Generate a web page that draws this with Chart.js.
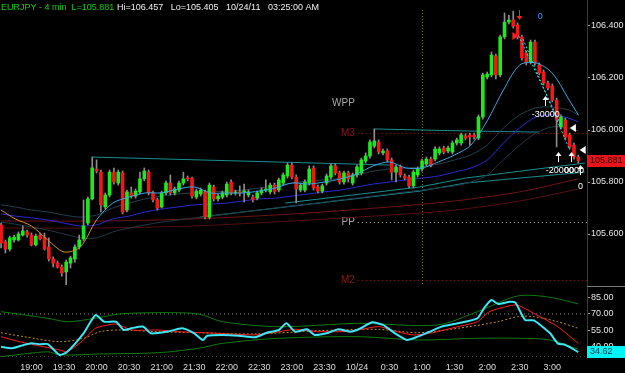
<!DOCTYPE html>
<html>
<head>
<meta charset="utf-8">
<script src="https://cdn.jsdelivr.net/npm/chart.js@4.4.0/dist/chart.umd.min.js"></script>
<style>
    html, body { margin: 0; padding: 0; background: #000; }
    #wrap { position: relative; width: 625px; height: 373px; overflow: hidden; background: #000; }
    #price { position: absolute; left: 0; top: 0; }
    #osc { position: absolute; left: 0; top: 286px; }
</style>
</head>
<body>
<div id="wrap">
    <canvas id="price" width="625" height="286"></canvas>
    <canvas id="osc" width="625" height="87"></canvas>
</div>
<script>
// Bars: EURJPY 4 min, first bar 18:32, last bar 03:24
const barStart = '18:32';
const barMinutes = 4;

const opens = [105.635,105.569,105.542,105.577,105.577,105.596,105.608,105.596,105.558,105.596,
    105.588,105.550,105.504,105.488,105.473,105.454,105.488,105.504,105.550,105.581,
    105.642,105.735,105.850,105.838,105.704,105.750,105.838,105.796,105.835,105.692,
    105.758,105.746,105.762,105.812,105.838,105.758,105.731,105.704,105.758,105.796,
    105.758,105.769,105.796,105.815,105.815,105.742,105.754,105.762,105.665,105.781,
    105.735,105.742,105.750,105.800,105.758,105.762,105.762,105.750,105.742,105.738,
    105.758,105.769,105.762,105.788,105.769,105.796,105.823,105.865,105.819,105.769,
    105.769,105.796,105.854,105.781,105.765,105.796,105.819,105.862,105.835,105.800,
    105.835,105.796,105.827,105.835,105.881,105.900,105.938,105.954,105.912,105.919,
    105.885,105.838,105.858,105.823,105.819,105.785,105.827,105.850,105.869,105.888,
    105.888,105.912,105.931,105.919,105.915,105.950,105.950,105.977,105.981,105.981,
    105.969,106.050,106.204,106.212,106.285,106.212,106.358,106.415,106.423,106.404,
    106.358,106.296,106.262,106.338,106.250,106.223,106.181,106.169,106.115,106.012,
    106.038,105.981,105.942,105.896];
const highs = [105.642,105.577,105.592,105.596,105.608,105.631,105.615,105.604,105.600,105.604,
    105.604,105.585,105.512,105.496,105.481,105.500,105.515,105.558,105.596,105.731,
    105.742,105.896,105.885,105.846,105.758,105.846,105.854,105.846,105.842,105.769,
    105.781,105.773,105.838,105.854,105.846,105.765,105.738,105.765,105.804,105.827,
    105.781,105.804,105.838,105.823,105.819,105.773,105.777,105.769,105.796,105.788,
    105.754,105.765,105.800,105.808,105.769,105.785,105.792,105.769,105.750,105.765,
    105.777,105.808,105.796,105.796,105.815,105.835,105.873,105.873,105.827,105.796,
    105.808,105.862,105.862,105.788,105.792,105.831,105.869,105.869,105.842,105.842,
    105.842,105.835,105.865,105.892,105.912,105.962,106.004,105.962,105.927,105.927,
    105.892,105.865,105.865,105.831,105.827,105.846,105.858,105.888,105.896,105.896,
    105.935,105.935,105.938,105.938,105.958,105.969,105.988,105.985,105.988,105.988,
    106.058,106.219,106.223,106.300,106.292,106.365,106.450,106.442,106.457,106.412,
    106.365,106.304,106.346,106.346,106.258,106.231,106.188,106.177,106.123,106.058,
    106.046,105.988,105.950,105.904];
const lows = [105.546,105.527,105.535,105.569,105.573,105.592,105.588,105.554,105.554,105.577,
    105.538,105.496,105.473,105.469,105.438,105.405,105.469,105.492,105.542,105.573,
    105.635,105.731,105.835,105.685,105.696,105.742,105.792,105.788,105.677,105.685,
    105.738,105.738,105.754,105.804,105.750,105.723,105.692,105.700,105.750,105.750,
    105.750,105.762,105.788,105.804,105.738,105.735,105.746,105.658,105.658,105.727,
    105.727,105.735,105.742,105.750,105.750,105.746,105.723,105.742,105.723,105.731,
    105.750,105.762,105.754,105.754,105.762,105.788,105.815,105.812,105.719,105.762,
    105.762,105.788,105.769,105.758,105.758,105.788,105.812,105.827,105.792,105.792,
    105.800,105.788,105.819,105.827,105.873,105.892,105.931,105.908,105.904,105.877,
    105.808,105.800,105.819,105.808,105.777,105.777,105.819,105.842,105.862,105.858,
    105.881,105.904,105.908,105.912,105.908,105.942,105.942,105.962,105.942,105.965,
    105.962,106.042,106.196,106.204,106.196,106.204,106.350,106.408,106.392,106.350,
    106.269,106.250,106.254,106.250,106.212,106.173,106.154,106.108,105.935,106.004,
    105.965,105.927,105.888,105.873];
const closes = [105.565,105.542,105.585,105.588,105.600,105.612,105.596,105.558,105.592,105.581,
    105.542,105.504,105.488,105.473,105.450,105.492,105.508,105.550,105.577,105.631,
    105.735,105.854,105.842,105.712,105.750,105.838,105.800,105.838,105.685,105.762,
    105.746,105.765,105.812,105.842,105.758,105.731,105.700,105.758,105.796,105.758,
    105.773,105.796,105.812,105.812,105.746,105.765,105.769,105.665,105.788,105.735,
    105.746,105.758,105.792,105.758,105.762,105.758,105.765,105.762,105.731,105.758,
    105.769,105.773,105.788,105.762,105.808,105.827,105.865,105.819,105.773,105.788,
    105.800,105.850,105.777,105.765,105.785,105.823,105.862,105.835,105.800,105.835,
    105.812,105.827,105.858,105.885,105.900,105.954,105.958,105.915,105.919,105.885,
    105.838,105.858,105.827,105.815,105.785,105.838,105.850,105.881,105.888,105.865,
    105.927,105.927,105.915,105.931,105.950,105.962,105.981,105.969,105.973,105.973,
    106.050,106.212,106.215,106.288,106.212,106.358,106.415,106.423,106.400,106.358,
    106.277,106.258,106.338,106.258,106.219,106.181,106.162,106.115,106.038,106.050,
    105.973,105.935,105.896,105.881];

// Moving averages, read every 15 minutes
const maTimes = ['18:32','18:45','19:00','19:15','19:30','19:45','20:00','20:15','20:30','20:45',
    '21:00','21:15','21:30','21:45','22:00','22:15','22:30','22:45','23:00','23:15',
    '23:30','23:45','0:00','0:15','0:30','0:45','1:00','1:15','1:30','1:45',
    '2:00','2:15','2:30','2:45','3:00','3:15','3:24'];
const fastMA = [105.692,105.658,105.631,105.577,105.531,105.550,105.654,105.719,105.742,105.758,
    105.758,105.773,105.781,105.758,105.758,105.758,105.765,105.777,105.796,105.792,
    105.800,105.812,105.831,105.862,105.877,105.854,105.854,105.877,105.904,105.942,
    106.035,106.154,106.250,106.258,106.219,106.119,106.058];
const blueMA = [105.677,105.669,105.662,105.654,105.642,105.631,105.635,105.658,105.669,105.685,
    105.696,105.704,105.712,105.715,105.719,105.727,105.735,105.738,105.746,105.754,
    105.762,105.769,105.781,105.792,105.800,105.808,105.815,105.823,105.838,105.854,
    105.885,105.950,106.008,106.050,106.058,106.046,106.031];
const bandUpper = [105.712,105.704,105.692,105.685,105.673,105.665,105.673,105.700,105.719,105.735,
    105.746,105.754,105.758,105.762,105.765,105.769,105.777,105.785,105.796,105.804,
    105.808,105.815,105.827,105.842,105.850,105.854,105.858,105.869,105.885,105.904,
    105.942,106.008,106.058,106.085,106.088,106.077,106.058];
const bandLower = [105.646,105.638,105.627,105.615,105.600,105.585,105.585,105.608,105.623,105.635,
    105.646,105.654,105.662,105.669,105.677,105.685,105.692,105.700,105.708,105.715,
    105.723,105.731,105.738,105.746,105.754,105.762,105.769,105.777,105.785,105.800,
    105.827,105.885,105.942,105.988,106.012,106.008,105.996];

const slowTimes = ['18:32','20:00','21:30','23:00','0:30','1:30','2:30','3:24'];
const slowUpper = [105.650,105.650,105.658,105.677,105.704,105.727,105.762,105.812];
const slowLower = [105.623,105.623,105.631,105.650,105.673,105.692,105.727,105.773];

// drawn trend lines
const trendA = { times: ['19:56','0:32'], prices: [105.896,105.865] };
const trendB = { times: ['0:16','0:16','1:44','2:48'], prices: [105.962,106.004,105.996,105.992] };
const trendC = { times: ['22:54','0:58','1:40','3:30'], prices: [105.719,105.781,105.815,105.873] };
const trendD = { times: ['21:35','0:58','1:40','3:30'], prices: [105.665,105.765,105.796,105.838] };

// pivots
const pivotNames = ['WPP','M3','PP','M2'];
const pivotPrices = [106.104,105.988,105.646,105.423];
const pivotHasLine = [false,true,true,true];

// trade marks
const markTexts = ['0','-30000','-20000','0000','0'];
const markTimes = ['2:49','2:54','3:07','3:20','3:26'];
const markPrices = [106.435,106.058,105.846,105.846,105.781];
const upArrowTimes = ['2:53','3:05','3:17','3:26'];
const upArrowPrices = [106.131,105.915,105.915,105.865];
const flagTimes = ['3:19','3:28'];
const flagPrices = [106.008,105.923];

// oscillator panel
const rsiTimes = ['18:32','18:42','18:53','19:00','19:08','19:15','19:26','19:33','19:48','19:59',
    '20:07','20:18','20:25','20:32','20:43','20:50','21:05','21:19','21:30','21:38',
    '21:42','21:56','22:11','22:26','22:37','22:48','22:55','23:03','23:14','23:21',
    '23:32','23:43','23:54','0:02','0:14','0:24','0:35','0:46','0:56','1:07',
    '1:18','1:33','1:51','1:57','2:04','2:10','2:21','2:26','2:35','2:43',
    '2:58','3:05','3:12','3:24'];
const rsiValues = [39.6,38.1,41.2,42.7,41.8,42.0,31.9,34.9,52.0,69.0,
    62.8,62.8,55.1,56.7,58.2,52.0,53.5,56.7,52.0,45.8,
    49.8,50.5,49.8,48.3,52.6,55.1,61.3,53.5,55.7,50.5,
    52.0,55.7,53.5,56.0,62.2,59.8,52.0,45.8,48.9,53.5,
    58.2,61.3,66.0,75.3,83.0,79.3,81.4,80.5,64.4,64.0,
    52.0,42.7,41.2,34.62];
const sigTimes = ['18:32','18:53','19:26','19:33','19:48','19:59','20:18','20:32','20:57','21:16',
    '21:52','22:26','22:48','23:03','23:25','23:54','0:20','0:37','0:52','1:07',
    '1:33','1:51','2:02','2:21','2:28','2:43','3:05','3:24'];
const sigValues = [48.9,43.3,36.5,34.9,45.8,56.7,60.7,55.1,55.1,53.5,
    52.0,50.5,53.5,55.7,53.5,54.0,58.2,53.5,50.5,52.0,
    58.2,62.8,72.1,77.7,78.3,70.6,58.2,42.7];
const avgTimes = ['18:32','18:53','19:26','19:48','20:03','20:21','20:57','21:34','22:26','23:25',
    '0:20','0:56','1:33','2:10','2:28','2:43','3:05','3:24'];
const avgValues = [52.6,48.9,44.2,47.4,53.5,55.1,53.5,52.6,51.4,54.5,
    55.7,52.6,56.7,62.8,67.5,67.5,62.8,56.7];
const hiBandTimes = ['18:32','19:15','19:33','19:59','20:21','20:57','21:34','21:56','22:48','0:02',
    '1:14','1:51','2:28','2:58','3:24'];
const hiBandValues = [72.1,66.0,62.8,66.0,70.0,71.2,70.0,62.8,58.2,61.3,
    59.8,72.1,86.7,85.5,79.3];
const loBandTimes = ['18:32','19:15','19:26','20:03','20:57','21:34','21:56','22:48','0:02','0:56',
    '1:51','2:28','2:58','3:24'];
const loBandValues = [30.3,34.9,31.9,32.8,34.0,38.1,42.7,47.4,48.9,45.8,
    47.4,47.4,45.8,37.2];
const oscLevels = [70, 30];

// axes
const priceTicks = [105.6, 105.8, 106.0, 106.2, 106.4];
const oscTicks = [40, 55, 70, 85];
const tickTimes = ['19:00','19:30','20:00','20:30','21:00','21:30','22:00','22:30','23:00','23:30',
    '0:00','0:30','1:00','1:30','2:00','2:30','3:00'];
const tickLabels = ['19:00','19:30','20:00','20:30','21:00','21:30','22:00','22:30','23:00','23:30',
    '10/24','0:30','1:00','1:30','2:00','2:30','3:00'];
const viewStart = '18:31';
const viewEnd = '3:32';

const FONT = 'Arial, "Liberation Sans", sans-serif';

// minutes since 18:00, times after midnight roll over
function toMin(s) {
    const [h, m] = s.split(':').map(Number);
    return ((h < 12 ? h + 24 : h) - 18) * 60 + m;
}

function series(times, values) {
    return times.map((t, i) => ({ x: toMin(t), y: values[i] }));
}

function lineSet(times, values, color, order, extra) {
    return Object.assign({
        type: 'line',
        data: series(times, values),
        borderColor: color,
        borderWidth: 1,
        pointRadius: 0,
        tension: 0.3,
        order: order
    }, extra || {});
}

const barX = opens.map((v, i) => toMin(barStart) + i * barMinutes);
const bodyColors = opens.map((o, i) => closes[i] >= o ? '#1ee81e' : '#f01818');

function rightAxis(min, max, ticks, digits) {
    return {
        position: 'right',
        min: min,
        max: max,
        afterBuildTicks: s => { s.ticks = ticks.map(v => ({ value: v })); },
        afterFit: s => { s.width = 38; s.paddingTop = 0; s.paddingBottom = 0; },
        ticks: {
            color: '#e6e6e6',
            font: { family: FONT, size: 9 },
            padding: 1,
            callback: v => Number(v).toFixed(digits)
        },
        grid: { drawOnChartArea: false, tickLength: 3, color: '#a0a0a0' },
        border: { display: true, color: '#3a3a3a' }
    };
}

const priceDecor = {
    id: 'priceDecor',
    beforeDatasetsDraw(chart) {
        const { ctx, chartArea: a, scales: { x, y } } = chart;
        ctx.save();
        // session separator at 1:00
        const sx = Math.round(x.getPixelForValue(toMin('1:00'))) + 0.5;
        ctx.strokeStyle = '#8a7c00';
        ctx.lineWidth = 1;
        ctx.setLineDash([1, 2]);
        ctx.beginPath();
        ctx.moveTo(sx, a.top + 10);
        ctx.lineTo(sx, a.bottom);
        ctx.stroke();

        // pivot levels
        const lx = x.getPixelForValue(toMin('23:58'));
        ctx.font = '10px ' + FONT;
        ctx.textAlign = 'right';
        ctx.textBaseline = 'middle';
        pivotNames.forEach((name, i) => {
            const py = Math.round(y.getPixelForValue(pivotPrices[i])) + 0.5;
            const col = name.startsWith('M') ? '#8c1a1a' : '#a8a8a8';
            ctx.fillStyle = col;
            ctx.fillText(name, lx, py);
            if (pivotHasLine[i]) {
                ctx.strokeStyle = name.startsWith('M') ? '#8c1a1a' : '#b4b4b4';
                ctx.setLineDash([1, 3]);
                ctx.beginPath();
                ctx.moveTo(lx + 3, py);
                ctx.lineTo(a.right, py);
                ctx.stroke();
            }
        });
        ctx.restore();
    },
    afterDatasetsDraw(chart) {
        const { ctx, scales: { x, y } } = chart;
        ctx.save();
        const px = t => x.getPixelForValue(toMin(t));

        // signal trail lines
        ctx.strokeStyle = '#35e0e0';
        ctx.lineWidth = 1;
        ctx.setLineDash([2, 2]);
        [[['2:29', 106.362], ['3:08', 106.019]], [['2:33', 106.350], ['3:16', 105.923]]].forEach(seg => {
            ctx.beginPath();
            ctx.moveTo(px(seg[0][0]), y.getPixelForValue(seg[0][1]));
            ctx.lineTo(px(seg[1][0]), y.getPixelForValue(seg[1][1]));
            ctx.stroke();
        });
        ctx.setLineDash([]);

        // sell arrow and flag
        const dx = Math.round(px('2:29')) + 0.5;
        const dy = y.getPixelForValue(106.423);
        ctx.strokeStyle = '#ff2020';
        ctx.fillStyle = '#ff2020';
        ctx.lineWidth = 1;
        ctx.beginPath(); ctx.moveTo(dx, dy - 10); ctx.lineTo(dx, dy - 2); ctx.stroke();
        ctx.beginPath(); ctx.moveTo(dx - 3, dy - 4); ctx.lineTo(dx + 3, dy - 4); ctx.lineTo(dx, dy); ctx.fill();
        const fx = px('2:26'), fy = y.getPixelForValue(106.362);
        ctx.beginPath(); ctx.moveTo(fx - 3, fy - 4); ctx.lineTo(fx + 3, fy); ctx.lineTo(fx - 3, fy + 4); ctx.fill();

        // cover arrows
        ctx.strokeStyle = '#ffffff';
        ctx.fillStyle = '#ffffff';
        upArrowTimes.forEach((t, i) => {
            const ax = Math.round(px(t)) + 0.5;
            const ay = y.getPixelForValue(upArrowPrices[i]);
            ctx.beginPath(); ctx.moveTo(ax, ay + 2); ctx.lineTo(ax, ay + 10); ctx.stroke();
            ctx.beginPath(); ctx.moveTo(ax - 3, ay + 4); ctx.lineTo(ax + 3, ay + 4); ctx.lineTo(ax, ay); ctx.fill();
        });
        flagTimes.forEach((t, i) => {
            const ax = px(t), ay = y.getPixelForValue(flagPrices[i]);
            ctx.beginPath(); ctx.moveTo(ax + 3, ay - 4); ctx.lineTo(ax - 3, ay); ctx.lineTo(ax + 3, ay + 4); ctx.fill();
        });

        // texts
        ctx.font = '9px ' + FONT;
        ctx.textAlign = 'center';
        ctx.textBaseline = 'middle';
        markTexts.forEach((txt, i) => {
            ctx.fillStyle = i === 0 ? '#3a9cff' : '#ffffff';
            ctx.fillText(txt, px(markTimes[i]), y.getPixelForValue(markPrices[i]));
        });
        ctx.restore();
    },
    afterDraw(chart) {
        const { ctx, scales: { y } } = chart;
        ctx.save();
        // header
        ctx.font = '9px ' + FONT;
        ctx.textAlign = 'left';
        ctx.textBaseline = 'alphabetic';
        const head = 'EURJPY - 4 min  L=' + closes[closes.length - 1].toFixed(3);
        ctx.fillStyle = '#10d010';
        ctx.fillText(head, 1, 10);
        ctx.fillStyle = '#f0f0f0';
        ctx.fillText('Hi=106.457   Lo=105.405   10/24/11   03:25:00 AM', 117, 10);

        // last price tag
        const last = closes[closes.length - 1];
        const ty = Math.round(y.getPixelForValue(last));
        ctx.fillStyle = '#e8141b';
        ctx.fillRect(587, ty - 6, 38, 12);
        ctx.fillStyle = '#2a0000';
        ctx.textBaseline = 'middle';
        ctx.fillText(last.toFixed(3), 590, ty);
        ctx.restore();
    }
};

const oscDecor = {
    id: 'oscDecor',
    afterDraw(chart) {
        const { ctx, scales: { y } } = chart;
        ctx.save();
        ctx.strokeStyle = '#7a7a7a';
        ctx.beginPath(); ctx.moveTo(587, 0.5); ctx.lineTo(625, 0.5); ctx.stroke();
        const last = rsiValues[rsiValues.length - 1];
        const ty = Math.round(y.getPixelForValue(last));
        ctx.fillStyle = '#00f4f4';
        ctx.fillRect(587, ty - 6, 38, 12);
        ctx.fillStyle = '#103050';
        ctx.font = '9px ' + FONT;
        ctx.textBaseline = 'middle';
        ctx.fillText(last.toFixed(2), 590, ty);
        ctx.restore();
    }
};

new Chart(document.getElementById('price'), {
    type: 'bar',
    data: {
        datasets: [
            lineSet(maTimes, fastMA, '#3fa6e0', 0, {
                segment: { borderColor: c => c.p1.parsed.x <= toMin('20:00') ? '#d4902a' : '#3fa6e0' }
            }),
            {
                data: barX.map((t, i) => ({ x: t, y: [opens[i], closes[i]] })),
                backgroundColor: bodyColors,
                barThickness: 3,
                minBarLength: 1,
                grouped: false,
                order: 1
            },
            {
                data: barX.map((t, i) => ({ x: t, y: [lows[i], highs[i]] })),
                backgroundColor: '#8c8c8c',
                barThickness: 1,
                grouped: false,
                order: 2
            },
            lineSet(maTimes, blueMA, '#2a2ad2', 3),
            lineSet(maTimes, bandUpper, '#23404f', 3),
            lineSet(maTimes, bandLower, '#1f3a48', 3),
            lineSet(slowTimes, slowUpper, '#701414', 3),
            lineSet(slowTimes, slowLower, '#561010', 3),
            lineSet(trendA.times, trendA.prices, '#1a8e8e', 3, { tension: 0 }),
            lineSet(trendB.times, trendB.prices, '#1a8e8e', 3, { tension: 0 }),
            lineSet(trendC.times, trendC.prices, '#1a8e8e', 3, { tension: 0 }),
            lineSet(trendD.times, trendD.prices, '#1a8e8e', 3, { tension: 0 })
        ]
    },
    options: {
        responsive: false,
        animation: false,
        layout: { padding: 0 },
        plugins: { legend: { display: false }, tooltip: { enabled: false } },
        scales: {
            x: {
                type: 'linear',
                min: toMin(viewStart),
                max: toMin(viewEnd),
                offset: false,
                display: false
            },
            y: rightAxis(105.4, 106.5, priceTicks, 3)
        }
    },
    plugins: [priceDecor]
});

new Chart(document.getElementById('osc'), {
    type: 'line',
    data: {
        datasets: [
            lineSet(rsiTimes, rsiValues, '#3ee6f6', 0, { borderWidth: 2, tension: 0.2 }),
            lineSet(sigTimes, sigValues, '#ff2020', 1, { tension: 0.2 }),
            lineSet(avgTimes, avgValues, '#c88a22', 2, { borderDash: [2, 2] }),
            lineSet(hiBandTimes, hiBandValues, '#0e7a0e', 3),
            lineSet(loBandTimes, loBandValues, '#0e7a0e', 3),
            ...oscLevels.map(v => lineSet([viewStart, viewEnd], [v, v], '#8a8a8a', 4, {
                borderDash: [1, 3], tension: 0
            }))
        ]
    },
    options: {
        responsive: false,
        animation: false,
        layout: { padding: 0 },
        plugins: { legend: { display: false }, tooltip: { enabled: false } },
        scales: {
            x: {
                type: 'linear',
                min: toMin(viewStart),
                max: toMin(viewEnd),
                afterBuildTicks: s => { s.ticks = tickTimes.map(t => ({ value: toMin(t) })); },
                afterFit: s => { s.height = 16; s.paddingLeft = 0; s.paddingRight = 0; },
                ticks: {
                    color: '#dcdcdc',
                    font: { family: FONT, size: 9 },
                    padding: 5,
                    maxRotation: 0,
                    autoSkip: false,
                    callback: (v, i) => tickLabels[i]
                },
                grid: { display: false, drawTicks: false },
                border: { display: false }
            },
            y: rightAxis(30, 96, oscTicks, 2)
        }
    },
    plugins: [oscDecor]
});
</script>
</body>
</html>
